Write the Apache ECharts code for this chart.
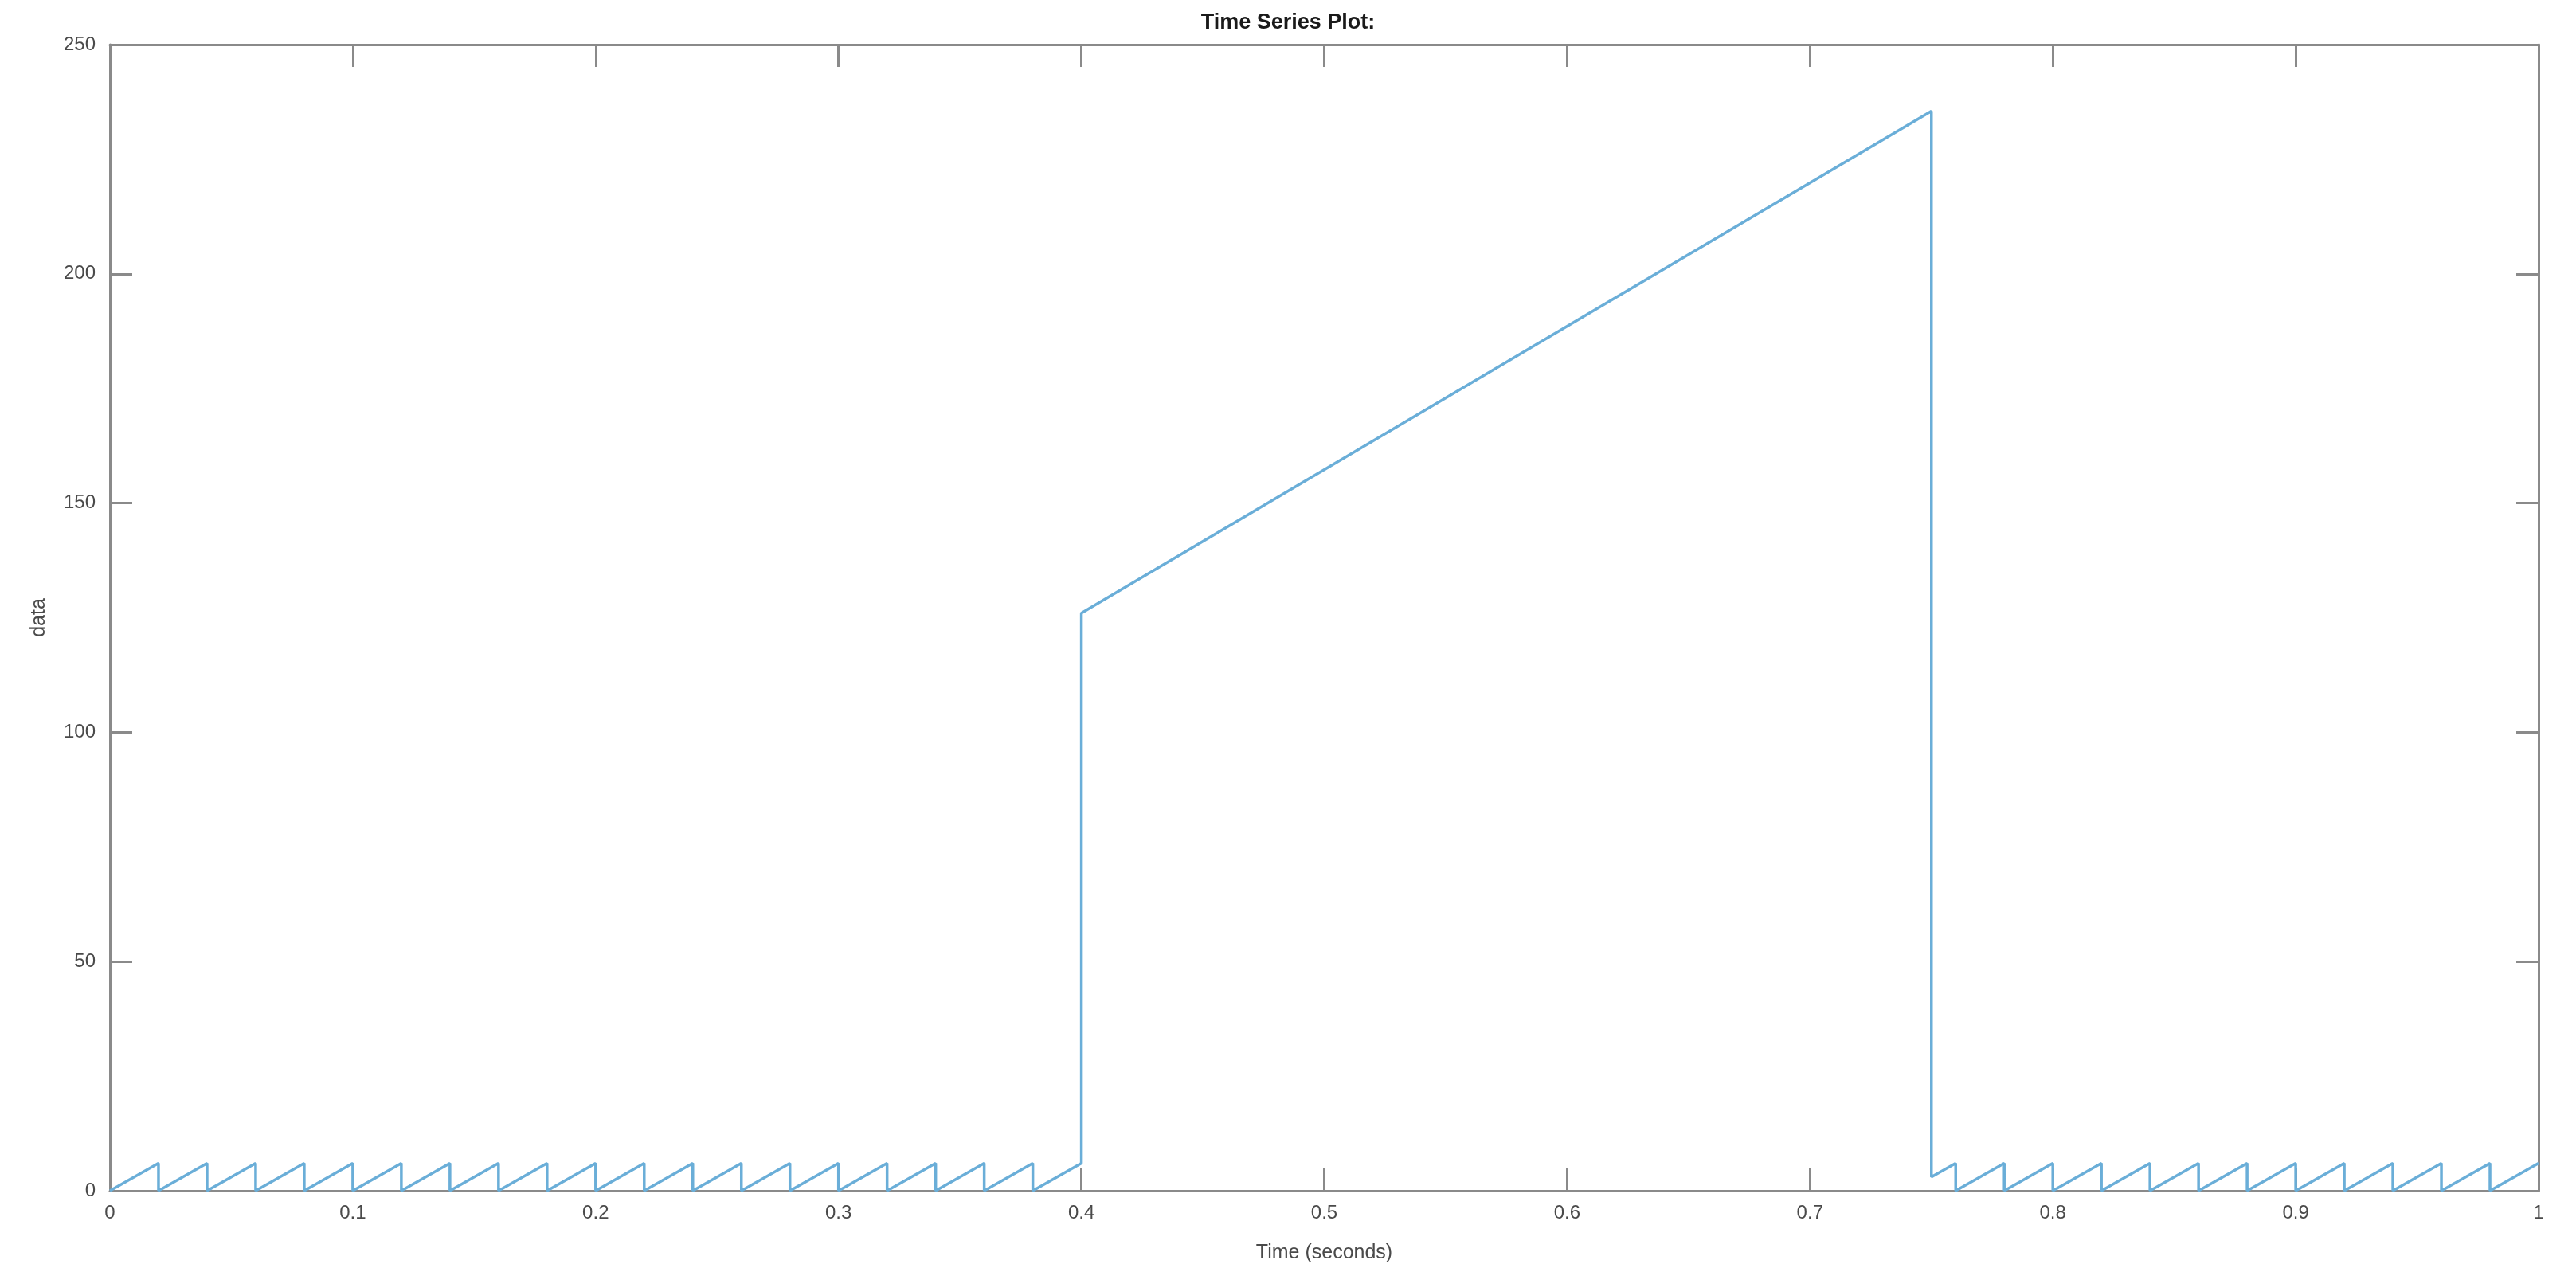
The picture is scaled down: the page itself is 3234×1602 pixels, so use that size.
<!DOCTYPE html>
<html>
<head>
<meta charset="utf-8">
<title>Time Series Plot</title>
<script src="https://cdn.jsdelivr.net/npm/echarts@6/dist/echarts.min.js"></script>
<style>
  html, body { margin: 0; padding: 0; background: #fff; }
  #chart { width: 3234px; height: 1602px; }
</style>
</head>
<body>
<div id="chart"></div>
<script>
// sawtooth before the pulse (time, value)
var sawBefore = [
  [0, 0], [0.02, 6], [0.02, 0], [0.04, 6], [0.04, 0], [0.06, 6], [0.06, 0],
  [0.08, 6], [0.08, 0], [0.10, 6], [0.10, 0], [0.12, 6], [0.12, 0],
  [0.14, 6], [0.14, 0], [0.16, 6], [0.16, 0], [0.18, 6], [0.18, 0],
  [0.20, 6], [0.20, 0], [0.22, 6], [0.22, 0], [0.24, 6], [0.24, 0],
  [0.26, 6], [0.26, 0], [0.28, 6], [0.28, 0], [0.30, 6], [0.30, 0],
  [0.32, 6], [0.32, 0], [0.34, 6], [0.34, 0], [0.36, 6], [0.36, 0],
  [0.38, 6], [0.38, 0], [0.40, 6]
];
// the big ramp between 0.4 s and 0.75 s
var pulse = [
  [0.40, 126], [0.75, 235.5], [0.75, 3], [0.76, 6], [0.76, 0]
];
// sawtooth after the pulse
var sawAfter = [
  [0.78, 6], [0.78, 0], [0.80, 6], [0.80, 0], [0.82, 6], [0.82, 0],
  [0.84, 6], [0.84, 0], [0.86, 6], [0.86, 0], [0.88, 6], [0.88, 0],
  [0.90, 6], [0.90, 0], [0.92, 6], [0.92, 0], [0.94, 6], [0.94, 0],
  [0.96, 6], [0.96, 0], [0.98, 6], [0.98, 0], [1.00, 6]
];
var xTicks = { min: 0, max: 1, step: 0.1 };
var yTicks = { min: 0, max: 250, step: 50 };

var signal = sawBefore.concat(pulse, sawAfter);

var axisGray = '#8a8a8a';
var labelGray = '#4a4a4a';
var font = 'Liberation Sans, Arial, Helvetica, sans-serif';

// box line + inward ticks, same for all four sides
function frameAxis(show) {
  return {
    axisLine: { show: true, onZero: false, lineStyle: { color: axisGray, width: 3 } },
    axisTick: { show: true, inside: true, length: 28, lineStyle: { color: axisGray, width: 3 } },
    splitLine: { show: false }
  };
}

var myChart = echarts.init(document.getElementById('chart'));
myChart.setOption({
  animation: false,
  backgroundColor: '#fff',
  title: {
    text: 'Time Series Plot:',
    left: 'center',
    top: 10,
    textStyle: {
      color: '#1a1a1a',
      fontSize: 27,
      fontWeight: 'bold',
      fontFamily: font
    }
  },
  grid: { left: 138, right: 47, top: 56, bottom: 107 },
  xAxis: [
    Object.assign(frameAxis(), {
      type: 'value',
      position: 'bottom',
      min: xTicks.min,
      max: xTicks.max,
      interval: xTicks.step,
      name: 'Time (seconds)',
      nameLocation: 'middle',
      nameGap: 66,
      nameTextStyle: { color: labelGray, fontSize: 25, fontFamily: font },
      axisLabel: { color: labelGray, fontSize: 24, fontFamily: font, margin: 16 }
    }),
    Object.assign(frameAxis(), {
      type: 'value',
      position: 'top',
      min: xTicks.min,
      max: xTicks.max,
      interval: xTicks.step,
      axisLabel: { show: false }
    })
  ],
  yAxis: [
    Object.assign(frameAxis(), {
      type: 'value',
      position: 'left',
      min: yTicks.min,
      max: yTicks.max,
      interval: yTicks.step,
      name: 'data',
      nameLocation: 'middle',
      nameGap: 76,
      nameTextStyle: { color: labelGray, fontSize: 25, fontFamily: font },
      axisLabel: { color: labelGray, fontSize: 24, fontFamily: font, margin: 18 }
    }),
    Object.assign(frameAxis(), {
      type: 'value',
      position: 'right',
      min: yTicks.min,
      max: yTicks.max,
      interval: yTicks.step,
      axisLabel: { show: false }
    })
  ],
  series: [
    {
      name: 'data',
      type: 'line',
      xAxisIndex: 0,
      yAxisIndex: 0,
      data: signal,
      showSymbol: false,
      clip: false,
      lineStyle: { color: '#6aaed8', width: 3.5 },
      itemStyle: { color: '#6aaed8' }
    }
  ]
});
</script>
</body>
</html>
